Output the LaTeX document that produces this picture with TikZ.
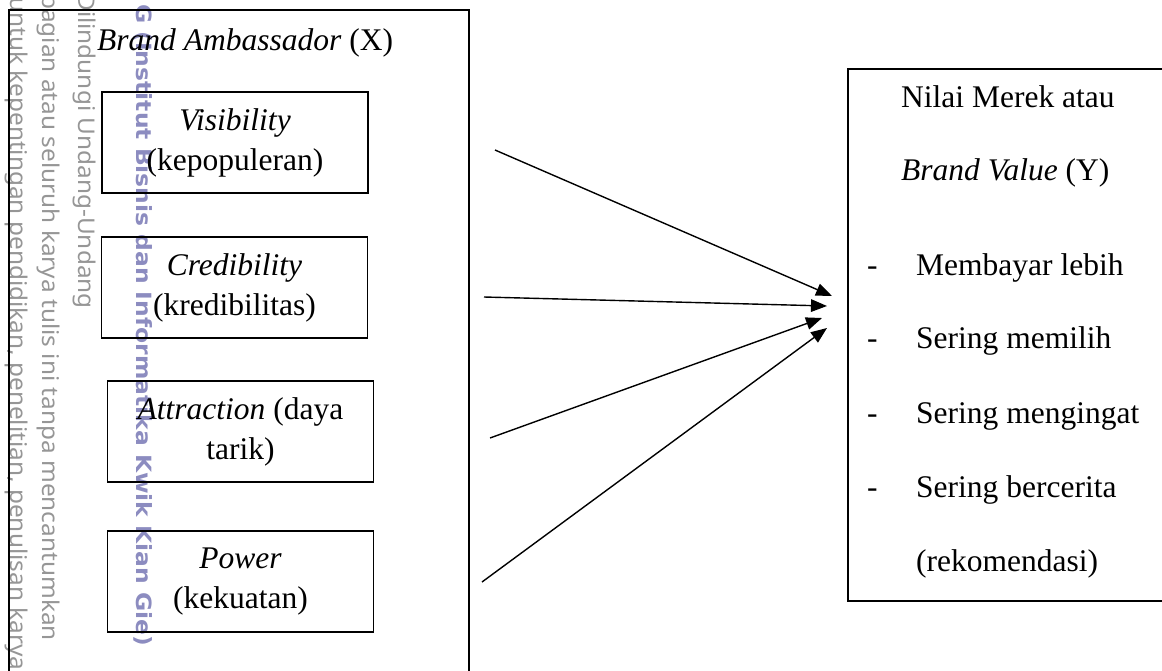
\documentclass[tikz,border=0pt]{standalone}
\usepackage{fontspec}
\setmainfont{Liberation Serif}
\newfontfamily\wmfont{Noto Sans}
\newfontfamily\wmbfont{DejaVu Sans}
\usetikzlibrary{arrows.meta}
\definecolor{wmgray}{RGB}{150,150,150}
\definecolor{wmviolet}{RGB}{140,140,192}
\newcommand{\txtsize}{\fontsize{31.5}{40}\selectfont}
\newcommand{\wmg}[1]{\scalebox{1.06}[1]{#1}}
\newcommand{\wmv}[1]{\scalebox{1.115}[1]{#1}}
\tikzset{
  wmtext/.style={rotate=-90, anchor=base west, inner sep=0pt, text=wmgray, font=\wmfont\fontsize{23}{24}\selectfont},
  wmbold/.style={rotate=-90, anchor=base west, inner sep=0pt, text=wmviolet, font=\wmbfont\bfseries\fontsize{21}{24}\selectfont},
  outerbox/.style={draw, line width=2pt, anchor=north west, inner sep=0pt},
  inbox/.style={draw, line width=1.4pt, minimum width=266pt, minimum height=101pt, align=center, inner sep=0pt, font=\txtsize},
  lbl/.style={anchor=base west, inner sep=0pt, font=\txtsize},
  arr/.style={line width=1.4pt, -{Triangle[length=16pt,width=12.5pt]}}
}
\begin{document}
\begin{tikzpicture}[x=1pt,y=-1pt]
\clip (0,0) rectangle (1162,670);
\fill[white] (0,0) rectangle (1162,670);
% watermark
\node[wmtext] (wm1) at (10,-3) {\wmg{untuk kepentingan pendidikan, penelitian, penulisan karya}};
\node[wmtext] (wm2) at (42,-6) {\wmg{bagian atau seluruh karya tulis ini tanpa mencantumkan}};
\node[wmtext] (wm3) at (78,-7) {\wmg{Dilindungi Undang-Undang}};
\node[wmbold] (wm4) at (136,4) {\wmv{G (Institut Bisnis dan Informatika Kwik Kian Gie)}};
% left group
\node[outerbox, minimum width=460pt, minimum height=700pt] (X) at (8,9) {};
\node[lbl] (Xt) at (97,50) {\textit{Brand Ambassador} (X)};
\node[inbox] (V) at (235,142.5) {\textit{Visibility}\\(kepopuleran)};
\node[inbox] (C) at (234.5,287.5) {\textit{Credibility}\\(kredibilitas)};
\node[inbox] (A) at (240.5,431.5) {\textit{Attraction} (daya\\tarik)};
\node[inbox] (P) at (240.5,581.5) {\textit{Power}\\(kekuatan)};
% right box
\node[outerbox, minimum width=340pt, minimum height=532pt] (Y) at (847,68) {};
\node[lbl] (Y1) at (901,107) {Nilai Merek atau};
\node[lbl] (Y2) at (901,180.5) {\textit{Brand Value} (Y)};
\node[lbl] (d1) at (867,275) {-};
\node[lbl] (Y3) at (916,275) {Membayar lebih};
\node[lbl] (d2) at (867,348) {-};
\node[lbl] (Y4) at (916,348) {Sering memilih};
\node[lbl] (d3) at (867,423) {-};
\node[lbl] (Y5) at (916,423) {Sering mengingat};
\node[lbl] (d4) at (867,497) {-};
\node[lbl] (Y6) at (916,497) {Sering bercerita};
\node[lbl] (Y7) at (916,571) {(rekomendasi)};
% arrows
\coordinate (s1) at (495,150);
\coordinate (e1) at (832,296);
\coordinate (s2) at (484,297);
\coordinate (e2) at (827,306);
\coordinate (s3) at (490,438);
\coordinate (e3) at (822,318);
\coordinate (s4) at (482,582);
\coordinate (e4) at (827,328);
\draw[arr] (s1) -- (e1);
\draw[arr] (s2) -- (e2);
\draw[arr] (s3) -- (e3);
\draw[arr] (s4) -- (e4);
\end{tikzpicture}
\end{document}
